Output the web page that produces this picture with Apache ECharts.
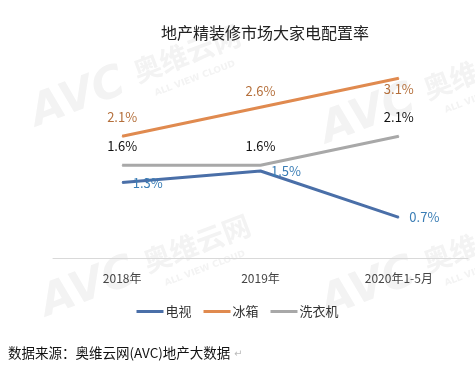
<!DOCTYPE html>
<html>
<head>
<meta charset="utf-8">
<script src="https://cdn.jsdelivr.net/npm/echarts@6/dist/echarts.min.js"></script>
<style>
html,body{margin:0;padding:0;background:#fff;}
#c{width:475px;height:368px;}
</style>
</head>
<body>
<div id="c"></div>
<script>
var title = '地产精装修市场大家电配置率';
var categories = ['2018年', '2019年', '2020年1-5月'];
var seriesNames = ['电视', '冰箱', '洗衣机'];
var tvValues = [1.3, 1.5, 0.7];
var fridgeValues = [2.1, 2.6, 3.1];
var washerValues = [1.6, 1.6, 2.1];
var sourceText = '数据来源：奥维云网(AVC)地产大数据';

var FONT = '"Noto Sans CJK SC", "Noto Sans", sans-serif';
var chart = echarts.init(document.getElementById('c'), null, {renderer: 'canvas'});

function withLabels(values, specs) {
  return values.map(function (v, i) {
    return {value: v, label: specs[i]};
  });
}
function fmt(p) { return p.value.toFixed(1) + '%'; }

var WM = '#f3f3f3';
function watermark(x, y) {
  return {
    type: 'group', x: x, y: y, rotation: 0.36, silent: true, z: 0,
    children: [
      {type: 'text', x: 0, y: 0, style: {text: 'AVC', font: 'italic bold 44px "DejaVu Sans", sans-serif', fill: WM}},
      {type: 'text', x: 110, y: 4, style: {text: '奥维云网', font: 'bold 28px "Noto Sans CJK SC", sans-serif', fill: WM}},
      {type: 'text', x: 122, y: 40, style: {text: 'ALL VIEW CLOUD', font: 'bold 9px "DejaVu Sans", sans-serif', fill: WM}}
    ]
  };
}

var option = {
  backgroundColor: '#fff',
  animation: false,
  title: {
    text: title, left: 260, top: 20, textAlign: 'center',
    textStyle: {fontFamily: FONT, fontSize: 16, fontWeight: 'normal', color: '#222'}
  },
  graphic: [
    watermark(25, 95),
    watermark(315, 112),
    watermark(35, 285),
    watermark(315, 285),
    {type: 'text', left: 8, top: 346, style: {text: sourceText, font: '13.5px ' + FONT, fill: '#111'}},
    {type: 'text', left: 234, top: 349, style: {text: '↵', font: '10px "DejaVu Sans", sans-serif', fill: '#bbb'}}
  ],
  legend: {
    data: seriesNames, left: 'center', top: 300,
    icon: 'rect', itemWidth: 27, itemHeight: 3, itemGap: 12,
    textStyle: {fontFamily: FONT, fontSize: 13, color: '#333', padding: [0, 0, 0, -3]}
  },
  grid: {left: 53, right: 7, top: 55, bottom: 110, containLabel: false},
  xAxis: {
    type: 'category', data: categories, boundaryGap: true,
    axisLine: {show: true, lineStyle: {color: '#d9d9d9', width: 1}},
    axisTick: {show: false},
    axisLabel: {fontFamily: FONT, fontSize: 12, color: '#444', margin: 14}
  },
  yAxis: {
    type: 'value', min: 0, max: 3.5, show: false,
    splitLine: {show: false}
  },
  series: [
    {
      name: seriesNames[0], type: 'line', symbol: 'circle', symbolSize: 1, showSymbol: true, z: 3,
      lineStyle: {width: 3, color: '#4a6fa8'}, itemStyle: {color: '#4a6fa8'},
      label: {show: true, position: 'right', distance: 10, formatter: fmt, fontFamily: FONT, fontSize: 13, color: '#3a7db5'},
      data: tvValues
    },
    {
      name: seriesNames[1], type: 'line', symbol: 'circle', symbolSize: 1, showSymbol: true, z: 3,
      lineStyle: {width: 3, color: '#e08a4f'}, itemStyle: {color: '#e08a4f'},
      label: {show: true, formatter: fmt, fontFamily: FONT, fontSize: 13, color: '#b5703c'},
      data: withLabels(fridgeValues, [
        {position: 'top', distance: 12},
        {position: 'top', distance: 9},
        {position: 'bottom', distance: 4}
      ])
    },
    {
      name: seriesNames[2], type: 'line', symbol: 'circle', symbolSize: 1, showSymbol: true, z: 2,
      lineStyle: {width: 3, color: '#a8a8a8'}, itemStyle: {color: '#a8a8a8'},
      label: {show: true, position: 'top', distance: 12, formatter: fmt, fontFamily: FONT, fontSize: 13, color: '#111'},
      data: washerValues
    }
  ]
};
chart.setOption(option);
</script>
</body>
</html>
